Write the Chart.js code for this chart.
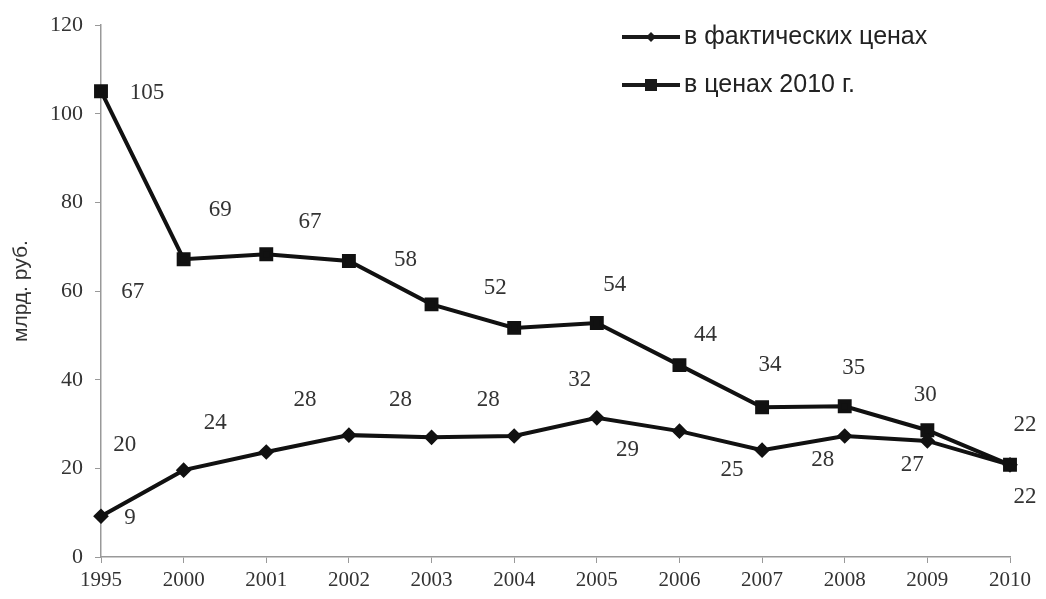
<!DOCTYPE html>
<html>
<head>
<meta charset="utf-8">
<script src="https://cdn.jsdelivr.net/npm/chart.js@4.4.1/dist/chart.umd.min.js"></script>
<style>
  html, body { margin: 0; padding: 0; background: #fff; }
  #wrap { width: 1046px; height: 599px; }
</style>
</head>
<body>
<div id="wrap"><canvas id="chart"></canvas></div>
<script>
// data
const years = ['1995', '2000', '2001', '2002', '2003', '2004', '2005', '2006', '2007', '2008', '2009', '2010'];
const actualPrices = [9.2, 19.6, 23.7, 27.5, 27, 27.3, 31.4, 28.4, 24.1, 27.3, 26.2, 20.8];
const prices2010 = [105.1, 67.2, 68.3, 66.8, 57, 51.7, 52.8, 43.3, 33.8, 34, 28.6, 20.8];
const actualLabels = ['9', '20', '24', '28', '28', '28', '32', '29', '25', '28', '27', '22'];
const labels2010 = ['105', '67', '69', '67', '58', '52', '54', '44', '34', '35', '30', '22'];
const seriesNames = ['в фактических ценах', 'в ценах 2010 г.'];
const yTicks = [0, 20, 40, 60, 80, 100, 120];

// label offsets from the point (px), labels in the original sit a bit off
const actualOffsets = [[29, 2], [-59, -25], [-51, -29], [-44, -35], [-31, -37], [-26, -36],
  [-17, -38], [-52, 19], [-30, 20], [-22, 24], [-15, 24], [15, 32]];
const offsets2010 = [[46, 2], [-51, 33], [-46, -44], [-39, -39], [-26, -44], [-19, -40],
  [18, -38], [26, -30], [8, -42], [9, -38], [-2, -35], [15, -40]];

const serif = '"Liberation Serif", "DejaVu Serif", serif';
const sans = '"Liberation Sans", Arial, sans-serif';

const pointLabels = {
  id: 'pointLabels',
  afterDatasetsDraw(chart) {
    const ctx = chart.ctx;
    ctx.save();
    ctx.font = '23px ' + serif;
    ctx.fillStyle = '#333';
    ctx.textAlign = 'center';
    ctx.textBaseline = 'middle';
    const sets = [[actualLabels, actualOffsets], [labels2010, offsets2010]];
    sets.forEach(([texts, offs], di) => {
      chart.getDatasetMeta(di).data.forEach((pt, i) => {
        ctx.fillText(texts[i], pt.x + offs[i][0], pt.y + offs[i][1]);
      });
    });
    ctx.restore();
  }
};

const legendBox = {
  id: 'legendBox',
  afterDraw(chart) {
    const ctx = chart.ctx;
    ctx.save();
    ctx.font = '25px ' + sans;
    ctx.textBaseline = 'middle';
    const rows = [37, 85];
    chart.data.datasets.forEach((ds, i) => {
      const y = rows[i];
      ctx.strokeStyle = '#1a1a1a';
      ctx.lineWidth = 4;
      ctx.beginPath();
      ctx.moveTo(622, y);
      ctx.lineTo(680, y);
      ctx.stroke();
      ctx.fillStyle = '#1a1a1a';
      if (i === 0) {
        ctx.beginPath();
        ctx.moveTo(651, y - 5); ctx.lineTo(656, y); ctx.lineTo(651, y + 5); ctx.lineTo(646, y);
        ctx.closePath(); ctx.fill();
      } else {
        ctx.fillRect(645, y - 6, 12, 12);
      }
      ctx.fillStyle = '#222';
      ctx.fillText(ds.label, 684, y);
    });
    ctx.restore();
  }
};

new Chart(document.getElementById('chart'), {
  type: 'line',
  data: {
    labels: years,
    datasets: [
      {
        label: seriesNames[0],
        data: actualPrices,
        borderColor: '#111',
        backgroundColor: '#111',
        borderWidth: 4,
        pointStyle: 'rectRot',
        pointRadius: 5,
        tension: 0
      },
      {
        label: seriesNames[1],
        data: prices2010,
        borderColor: '#111',
        backgroundColor: '#111',
        borderWidth: 4,
        pointStyle: 'rect',
        pointRadius: 7,
        tension: 0
      }
    ]
  },
  options: {
    responsive: true,
    maintainAspectRatio: false,
    animation: false,
    layout: { padding: { top: 25, right: 36, left: 0, bottom: 0 } },
    plugins: { legend: { display: false }, tooltip: { enabled: false } },
    scales: {
      x: {
        offset: false,
        grid: { drawOnChartArea: false, drawTicks: true, tickLength: 6, color: '#999' },
        border: { color: '#999', width: 1.5 },
        ticks: { color: '#333', font: { family: serif, size: 21 }, padding: 5, maxRotation: 0, autoSkip: false },
        afterFit: s => { s.height = 42; }
      },
      y: {
        min: 0,
        max: 120,
        afterBuildTicks: s => { s.ticks = yTicks.map(v => ({ value: v })); },
        grid: { drawOnChartArea: false, drawTicks: true, tickLength: 6, color: '#999' },
        border: { color: '#999', width: 1.5 },
        ticks: { color: '#333', font: { family: serif, size: 22 }, padding: 12 },
        title: { display: true, text: 'млрд. руб.', color: '#333', font: { family: sans, size: 21 }, padding: { top: 9, bottom: 0 } },
        afterFit: s => { s.width = 101; }
      }
    }
  },
  plugins: [pointLabels, legendBox]
});
</script>
</body>
</html>
